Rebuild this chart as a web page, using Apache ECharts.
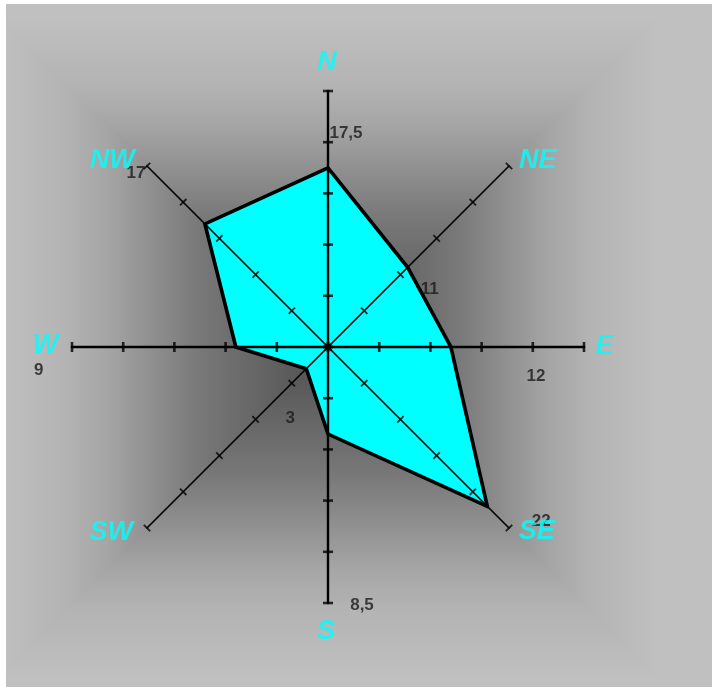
<!DOCTYPE html>
<html>
<head>
<meta charset="utf-8">
<title>Wind rose</title>
<script src="https://cdn.jsdelivr.net/npm/echarts@6/dist/echarts.min.js"></script>
<style>
  html, body { margin: 0; padding: 0; background: #ffffff; }
  #main { width: 712px; height: 687px; }
</style>
</head>
<body>
<div id="main"></div>
<script>
// compass directions, clockwise from north
var directions = ['N', 'NE', 'E', 'SE', 'S', 'SW', 'W', 'NW'];
var values = [17.5, 11, 12, 22, 8.5, 3, 9, 17];
var axisMax = 25;
var axisSplits = 5;

// label nudges in px (same order as directions)
var valueOffsets = [[18, -34], [22, 22], [85, 29], [54, 15], [34, 171], [-16, 50], [-197, 23], [-69, -51]];
var nameOffsets = [[-1, -2], [10, 13], [-6, 0], [9, -15], [-2, 2], [-17, -14], [0, -1], [-16, 13]];
var nameRadius = 27.6;

var cx = 328, cy = 347, R = 256;
var font = 'Liberation Sans, Arial, sans-serif';

// radar goes counter-clockwise, so reorder N, NW, W, ...
var ccw = [0, 7, 6, 5, 4, 3, 2, 1];
var mainAxes = [0, 6, 4, 2];

function makeRadar (list, lineWidth) {
  return {
    center: [cx, cy],
    radius: R,
    startAngle: 90,
    splitNumber: axisSplits,
    z: 4,
    indicator: list.map(function (i) {
      return { name: directions[i], min: 0, max: axisMax };
    }),
    axisName: { show: false },
    splitLine: { show: false },
    splitArea: { show: false },
    axisLine: { show: true, lineStyle: { color: '#000', width: lineWidth } },
    axisTick: { show: false },
    axisLabel: { show: false }
  };
}

// tick marks crossing every axis, one per split
var tickData = [];
directions.forEach(function (d, i) {
  var isMain = i % 2 === 0;
  for (var k = 0; k <= axisSplits; k++) {
    tickData.push({
      value: [k * axisMax / axisSplits, i * 45],
      symbolRotate: -i * 45,
      symbolSize: isMain ? [10, 2.6] : [9, 1.8]
    });
  }
});

function grad (x, y, x2, y2) {
  return new echarts.graphic.LinearGradient(x, y, x2, y2, [
    { offset: 0, color: '#c0c0c0' },
    { offset: 0.2, color: '#b4b4b4' },
    { offset: 0.33, color: '#a5a5a5' },
    { offset: 0.61, color: '#787878' },
    { offset: 0.92, color: '#575757' },
    { offset: 1, color: '#505050' }
  ]);
}

var gL = -2, gR = 658, gT = 17, gB = 677;
var ringLine = ccw.map(function (i) { return values[i]; });

var myChart = echarts.init(document.getElementById('main'));

var option = {
  animation: false,
  graphic: {
    elements: [
      { type: 'rect', z: -20, silent: true, shape: { x: 6, y: 4, width: 706, height: 683 }, style: { fill: '#c0c0c0' } },
      // left / right halves first, then top / bottom triangles over them (no seams)
      { type: 'rect', z: -19, silent: true, shape: { x: gL, y: gT, width: cx - gL + 1, height: gB - gT }, style: { fill: grad(0, 0, 1, 0) } },
      { type: 'rect', z: -19, silent: true, shape: { x: cx - 1, y: gT, width: gR - cx + 1, height: gB - gT }, style: { fill: grad(1, 0, 0, 0) } },
      { type: 'polygon', z: -18, silent: true, shape: { points: [[gL, gT], [gR, gT], [cx, cy]] }, style: { fill: grad(0, 0, 0, 1) } },
      { type: 'polygon', z: -18, silent: true, shape: { points: [[gL, gB], [gR, gB], [cx, cy]] }, style: { fill: grad(0, 1, 0, 0) } },
      { type: 'rect', z: -17, silent: true, shape: { x: 0, y: 0, width: 6, height: 687 }, style: { fill: '#ffffff' } },
      { type: 'rect', z: -17, silent: true, shape: { x: 0, y: 0, width: 712, height: 4 }, style: { fill: '#ffffff' } }
    ]
  },
  radar: [
    makeRadar(ccw, 1.6),
    makeRadar(mainAxes, 2.4)
  ],
  polar: { center: [cx, cy], radius: R },
  angleAxis: { type: 'value', min: 0, max: 360, startAngle: 90, clockwise: true, show: false },
  radiusAxis: { type: 'value', min: 0, max: axisMax, show: false },
  series: [
    {
      // cyan fill
      type: 'radar',
      radarIndex: 0,
      z: 2,
      symbol: 'none',
      lineStyle: { width: 0, opacity: 0 },
      areaStyle: { color: '#00ffff', opacity: 1 },
      data: [{ value: ringLine }]
    },
    {
      // black outline, centred on the vertices
      type: 'radar',
      radarIndex: 0,
      z: 3,
      symbol: 'none',
      lineStyle: { color: '#000', width: 3.6, join: 'miter' },
      data: [{ value: ringLine }]
    },
    {
      type: 'scatter',
      coordinateSystem: 'polar',
      clip: false,
      z: 4,
      symbol: 'rect',
      itemStyle: { color: '#000' },
      data: tickData
    },
    {
      type: 'scatter',
      coordinateSystem: 'polar',
      clip: false,
      z: 3,
      symbolSize: 0,
      label: {
        show: true,
        position: 'inside',
        color: '#1a1a1a',
        fontFamily: font,
        fontWeight: 'bold',
        fontSize: 17,
        formatter: function (p) { return String(p.value[0]).replace('.', ','); }
      },
      data: values.map(function (v, i) {
        return { value: [v, i * 45], label: { offset: valueOffsets[i] } };
      })
    },
    {
      type: 'scatter',
      coordinateSystem: 'polar',
      clip: false,
      z: 5,
      symbolSize: 0,
      label: {
        show: true,
        position: 'inside',
        color: '#00ffff',
        fontFamily: font,
        fontWeight: 'bold',
        fontStyle: 'italic',
        fontSize: 27,
        formatter: function (p) { return p.name; }
      },
      data: directions.map(function (d, i) {
        return { name: d, value: [nameRadius, i * 45], label: { offset: nameOffsets[i] } };
      })
    }
  ]
};

myChart.setOption(option);
</script>
</body>
</html>
